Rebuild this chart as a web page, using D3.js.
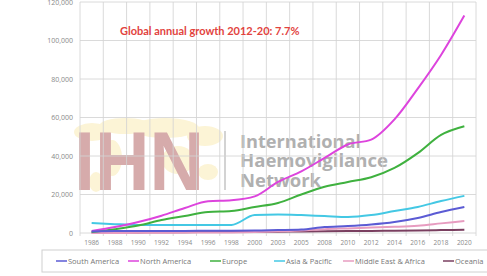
<!DOCTYPE html>
<html>
<script src="https://d3js.org/d3.v7.min.js"></script>
<style>
  body { margin: 0; background: #fff; }
  text { font-family: "Open Sans", "Liberation Sans", sans-serif; }
</style>
<body>
<div id="chart"></div>
<script>
    // categories (x axis labels)
    var years = ["1986","1988","1990","1992","1994","1996","1998","2000","2003","2005","2008","2010","2012","2014","2016","2018","2020"];

    // series values
    var southAmerica = [800, 1000, 1000, 1100, 1100, 1200, 1200, 1300, 1500, 1800, 3100, 3600, 4400, 5700, 7800, 10900, 13500];
    var northAmerica = [1000, 3100, 5700, 9000, 13000, 16500, 17000, 19000, 26500, 32000, 39000, 46000, 48500, 59000, 75000, 92500, 113000];
    var europe = [500, 2000, 3900, 6700, 8800, 10900, 11400, 13500, 15600, 20000, 24000, 26500, 29000, 33800, 41500, 51000, 55500];
    var asiaPacific = [5200, 4600, 4200, 4200, 4200, 4200, 4200, 9300, 9600, 9300, 8800, 8300, 9300, 11400, 13500, 16600, 19300];
    var middleEast = [0, 0, 100, 100, 200, 200, 300, 500, 900, 1300, 2000, 2400, 2800, 3200, 3800, 5000, 6200];
    var oceania = [200, 300, 300, 400, 400, 500, 500, 600, 700, 800, 900, 1000, 1100, 1200, 1300, 1500, 1700];

    var yTicks = [0, 20000, 40000, 60000, 80000, 100000, 120000];

    var series = [
        { name: "South America", values: southAmerica, color: "#5b5bd4" },
        { name: "North America", values: northAmerica, color: "#dd44dd" },
        { name: "Europe", values: europe, color: "#3fb13f" },
        { name: "Asia & Pacific", values: asiaPacific, color: "#44c8e4" },
        { name: "Middle East & Africa", values: middleEast, color: "#e79cc0" },
        { name: "Oceania", values: oceania, color: "#7a3f60" }
    ];

    var W = 487, H = 276;
    var svg = d3.select("#chart").append("svg")
        .attr("width", W)
        .attr("height", H);

    // plot area (don't call these top/left, window.top is taken)
    var pL = 80, pR = 476, pT = 2, pB = 233;

    var x = d3.scaleBand().domain(years).range([pL, pR]);
    var y = d3.scaleLinear().domain([0, 120000]).range([pB, pT]);

    // watermark (drawn first, under the gridlines)
    var wm = svg.append("g").attr("class", "watermark");
    // rough yellow world map behind the letters
    var blobs = [[92, 132, 18, 9], [125, 126, 26, 8], [165, 128, 34, 10], [205, 136, 18, 10], [112, 158, 10, 18], [178, 160, 16, 14], [208, 172, 10, 8], [96, 182, 7, 10]];
    wm.selectAll("ellipse").data(blobs).join("ellipse")
        .attr("cx", d => d[0]).attr("cy", d => d[1])
        .attr("rx", d => d[2]).attr("ry", d => d[3])
        .attr("fill", "#fcf4d6");
    wm.append("text")
        .attr("x", 74).attr("y", 190)
        .attr("textLength", 130)
        .attr("lengthAdjust", "spacingAndGlyphs")
        .style("font-family", "Liberation Sans, sans-serif")
        .style("font-size", "84px")
        .style("font-weight", "bold")
        .attr("fill", "#d6abab")
        .text("IHN");
    wm.append("line")
        .attr("x1", 225).attr("x2", 225).attr("y1", 131).attr("y2", 190)
        .attr("stroke", "#c4c4c4").attr("stroke-width", 1.5);
    var wmText = [["International", 148, 121], ["Haemovigilance", 167, 148], ["Network", 187, 81]];
    wm.selectAll("text.wmt").data(wmText).join("text")
        .attr("class", "wmt")
        .attr("x", 240).attr("y", d => d[1])
        .attr("textLength", d => d[2])
        .attr("lengthAdjust", "spacingAndGlyphs")
        .style("font-size", "18px")
        .style("font-weight", "bold")
        .attr("fill", "#b0b0b0")
        .text(d => d[0]);

    // gridlines
    svg.append("g")
        .selectAll("line")
        .data(yTicks)
        .join("line")
        .attr("x1", pL).attr("x2", pR)
        .attr("y1", d => y(d)).attr("y2", d => y(d))
        .attr("stroke", "#d4d4d4").attr("stroke-opacity", 0.85);

    var vx = years.map(d => x(d)).concat([pR]);
    svg.append("g")
        .selectAll("line")
        .data(vx)
        .join("line")
        .attr("x1", d => d).attr("x2", d => d)
        .attr("y1", pT).attr("y2", pB + 3)
        .attr("stroke", "#d4d4d4").attr("stroke-opacity", 0.85);

    // y tick labels
    svg.append("g")
        .selectAll("text")
        .data(yTicks)
        .join("text")
        .attr("x", 73)
        .attr("y", d => y(d) + 2.5)
        .attr("text-anchor", "end")
        .style("font-size", "7px")
        .attr("fill", "#8a8a8a")
        .text(d => d3.format(",")(d));

    // x tick labels
    svg.append("g")
        .selectAll("text")
        .data(years)
        .join("text")
        .attr("x", d => x(d) + x.bandwidth() / 2)
        .attr("y", 245)
        .attr("text-anchor", "middle")
        .style("font-size", "6.5px")
        .attr("fill", "#8a8a8a")
        .text(d => d);

    // lines
    var line = d3.line()
        .x((d, i) => x(years[i]) + x.bandwidth() / 2)
        .y(d => y(d))
        .curve(d3.curveMonotoneX);

    svg.append("g")
        .selectAll("path")
        .data(series.slice().reverse())
        .join("path")
        .attr("d", d => line(d.values))
        .attr("fill", "none")
        .attr("stroke", d => d.color)
        .attr("stroke-width", 2);

    // title
    svg.append("text")
        .attr("x", 120).attr("y", 35)
        .style("font-family", "Lato, sans-serif")
        .style("font-size", "11px")
        .style("font-weight", "bold")
        .attr("fill", "#e2433e")
        .text("Global annual growth 2012-20: 7.7%");

    // legend
    var legend = svg.append("g");
    legend.append("rect")
        .attr("x", 42).attr("y", 250)
        .attr("width", 460).attr("height", 22)
        .attr("fill", "#fff")
        .attr("stroke", "#d0d0d0");
    var legX = [56, 128, 210, 274, 343, 443];
    var items = legend.selectAll("g").data(series).join("g")
        .attr("transform", (d, i) => "translate(" + legX[i] + ",261)");
    items.append("line")
        .attr("x1", 0).attr("x2", 11)
        .attr("stroke", d => d.color).attr("stroke-width", 1.5);
    items.append("text")
        .attr("x", 12).attr("y", 2.5)
        .style("font-size", "7.5px")
        .attr("fill", "#777")
        .text(d => d.name);
</script>
</body>
</html>
